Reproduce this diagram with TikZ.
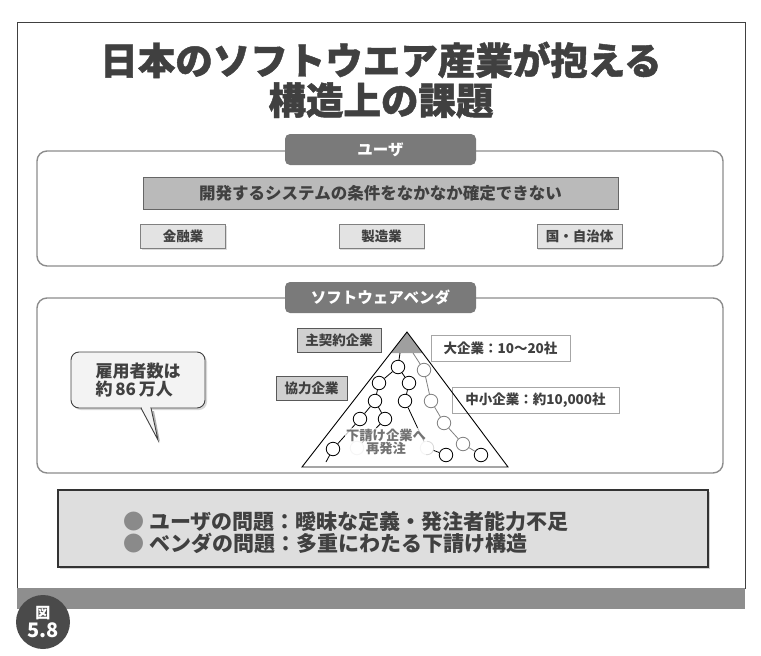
\documentclass[tikz,border=0pt]{standalone}
\usepackage{fontspec}
\setmainfont{Noto Sans CJK JP}
\newfontfamily\heavyfont{Noto Sans CJK JP}[BoldFeatures={FakeBold=1.2}]
\usetikzlibrary{positioning,shadows}
\definecolor{titlegray}{HTML}{404040}
\definecolor{tabgray}{HTML}{7A7A7A}
\definecolor{framegray}{HTML}{8C8C8C}
\definecolor{bannergray}{HTML}{BABABA}
\definecolor{boxgray}{HTML}{E3E3E3}
\definecolor{labelgray}{HTML}{D0D0D0}
\definecolor{sumgray}{HTML}{DEDEDE}
\definecolor{bandgray}{HTML}{8E8E8E}
\definecolor{markgray}{HTML}{4A4A4A}
\definecolor{bulletgray}{HTML}{8A8A8A}
\definecolor{calloutfill}{HTML}{F3F3F3}
\newcommand{\fsz}[1]{\bfseries\fontsize{#1}{1.25\dimexpr#1pt\relax}\selectfont}
\tikzset{
	section/.style={draw=framegray, line width=1.4pt, rounded corners=10pt},
	tab/.style={fill=tabgray, rounded corners=5pt, text=white, font=\fsz{15.5}, minimum width=191pt, minimum height=31pt},
	banner/.style={fill=bannergray, draw=gray!80!black, line width=0.8pt, text=titlegray, font=\fsz{16.5}, minimum width=475pt, minimum height=32pt, drop shadow={shadow xshift=1.2pt, shadow yshift=-1.2pt, fill=gray!60}},
	sector/.style={fill=boxgray, draw=gray, line width=0.7pt, text=titlegray, font=\fsz{13.5}, minimum width=85pt, minimum height=24pt, drop shadow={shadow xshift=1.2pt, shadow yshift=-1.2pt, fill=gray!55}},
	tier/.style={fill=labelgray, draw=gray!70!black, line width=0.7pt, text=titlegray, font=\fsz{13.5}, minimum height=24pt, drop shadow={shadow xshift=1.2pt, shadow yshift=-1.2pt, fill=gray!55}},
	count/.style={fill=white, draw=gray!70, line width=0.7pt, text=titlegray, font=\fsz{13.5}, minimum height=26pt},
	knot/.style={circle, draw=black, fill=white, inner sep=0pt, minimum size=13.5pt, line width=0.8pt},
	knotg/.style={knot, draw=gray},
	knotl/.style={knot, draw=gray!30},
}
\begin{document}
\begin{tikzpicture}[x=1pt, y=-1pt]
	\useasboundingbox (0,0) rectangle (761,656);
	\draw[titlegray, line width=0.8pt] (17,22) rectangle (745,588);
	\fill[bandgray] (17,588) rectangle (745,609);
	\node[circle, fill=markgray, minimum size=54pt, inner sep=0pt, text=white, align=center, font=\fsz{20}] (figmark) at (43,622) {{\fontsize{15}{15}\selectfont 図}\\[-6pt]5.8};

	\node[text=titlegray, align=center, font={\heavyfont\fsz{37.5}}, inner sep=0pt] (title) at (381,80) {日本のソフトウエア産業が抱える\\[-7pt]構造上の課題};

	\draw[section] (37,151) rectangle (723,266);
	\node[tab] (user) at (380.5,149.5) {ユーザ};
	\node[banner] (cond) at (380.5,193) {開発するシステムの条件をなかなか確定できない};
	\node[sector] (fin) at (183,236.5) {金融業};
	\node[sector] (mfg) at (381.5,236.5) {製造業};
	\node[sector] (gov) at (579.5,236.5) {国・自治体};

	\draw[section] (37,298) rectangle (723,473);
	\node[tab] (vendor) at (380.5,297.5) {ソフトウェアベンダ};

	\fill[gray!60] (144,411) -- (160,442) -- (154,411) -- cycle;
	\node[fill=calloutfill, draw=gray!50!black, line width=0.9pt, rounded corners=8pt, minimum width=134pt, minimum height=56pt, align=left, text=titlegray, font=\fsz{17}, drop shadow={shadow xshift=2pt, shadow yshift=-2pt, fill=gray!60}] (staff) at (138,380) {雇用者数は\\[-3pt]約\,86\,万人};
	\filldraw[fill=calloutfill, draw=gray!50!black, line width=0.9pt] (141,408) -- (158,440) -- (151,408);
	\fill[calloutfill] (142,406.5) rectangle (150,409.2);

	\node[tier, minimum width=84pt] (prime) at (339,340) {主契約企業};
	\node[tier, minimum width=71pt] (coop) at (311.5,388) {協力企業};
	\node[count, minimum width=139pt] (large) at (500.5,348) {大企業：10〜20社};
	\node[count, minimum width=167pt] (smes) at (535.5,400.5) {中小企業：約10,000社};

	\coordinate (apex) at (407,332);
	\coordinate (bl) at (302,467);
	\coordinate (br) at (508,467);
	\fill[gray!75] (apex) -- (391,353) -- (423,353) -- cycle;
	\draw[line width=0.9pt] (apex) -- (bl) -- (br) -- cycle;
	\coordinate (t1) at (400,353);
	\coordinate (t2) at (413,353);

	\node[knot] (a) at (398,367) {};
	\node[knot] (b) at (379,383) {};
	\node[knot] (c) at (409,383) {};
	\node[knot] (d) at (375,401) {};
	\node[knot] (e) at (405,401) {};
	\node[knot] (f) at (360,419) {};
	\node[knot] (g) at (385,419) {};
	\node[knot] (h) at (333,449) {};
	\node[knotl] (l1) at (357,448) {};
	\node[knotl] (l2) at (427,448) {};
	\node[knot] (m) at (446,455) {};
	\node[knot] (n) at (481,455) {};
	\node[knotg] (ga) at (424,370) {};
	\node[knotg] (gb) at (431,401) {};
	\node[knotg] (gc) at (444,423) {};
	\node[knotg] (gd) at (463,444) {};
	\coordinate (hs) at (326,462);

	\draw[line width=0.8pt] (t1) -- (a) (a) -- (b) (a) -- (c) (b) -- (d) (c) -- (e) (d) -- (f) (d) -- (g) (f) -- (h) (h) -- (hs) (g) -- (l1) (e) -- (l2) (l2) -- (m);
	\draw[gray, line width=0.8pt] (t2) -- (ga) (ga) -- (gb) (gb) -- (gc) (gc) -- (gd) (gd) -- (n);

	\node[fill=white, fill opacity=0.75, text opacity=1, rounded corners=4pt, inner sep=1pt, align=center, text=gray!90!black, font=\fsz{13.3}] (resub) at (386,442) {下請け企業へ\\[-3pt]再発注};

	\node[fill=sumgray, draw=black!80, line width=1.2pt, minimum width=650pt, minimum height=77pt, drop shadow={shadow xshift=2pt, shadow yshift=-2pt, fill=gray!70}] (summary) at (383,528.5) {};
	\node[anchor=west, align=left, text=titlegray, font=\fsz{21}] (issues) at (120,532.5) {{\color{bulletgray}●}\ ユーザの問題：曖昧な定義・発注者能力不足\\[-4pt]{\color{bulletgray}●}\ ベンダの問題：多重にわたる下請け構造};
\end{tikzpicture}
\end{document}
